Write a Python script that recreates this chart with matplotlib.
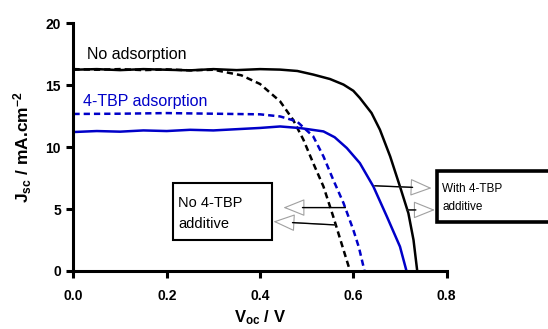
from matplotlib import pyplot as plt
from matplotlib.patches import Rectangle
import numpy as np

plt.rcParams['font.family'] = ['Liberation Sans', 'DejaVu Sans']
plt.rcParams['mathtext.fontset'] = 'custom'
plt.rcParams['mathtext.rm'] = 'Liberation Sans'
plt.rcParams['mathtext.bf'] = 'Liberation Sans:bold'
plt.rcParams['mathtext.it'] = 'Liberation Sans:italic'

# J-V curves
v_no_ads = [0, 0.05, 0.1, 0.15, 0.2, 0.25, 0.3, 0.35, 0.4, 0.443, 0.48, 0.514, 0.55,
            0.579, 0.6, 0.614, 0.639, 0.657, 0.679, 0.700, 0.718, 0.729, 0.737]
j_no_ads = [16.25, 16.3, 16.22, 16.3, 16.25, 16.2, 16.3, 16.22, 16.3, 16.26, 16.15, 15.86,
            15.5, 15.05, 14.55, 13.97, 12.76, 11.41, 9.25, 6.82, 4.67, 2.51, 0]

v_no_ads_d = [0, 0.05, 0.1, 0.15, 0.2, 0.25, 0.3, 0.32, 0.36, 0.40, 0.443, 0.471, 0.493,
              0.514, 0.536, 0.557, 0.579, 0.593]
j_no_ads_d = [16.3, 16.25, 16.3, 16.22, 16.28, 16.2, 16.25, 16.1, 15.8, 15.1, 13.7, 12.2,
              10.6, 8.71, 6.82, 4.39, 1.7, 0]

v_tbp_d = [0, 0.1, 0.2, 0.3, 0.4, 0.443, 0.479, 0.514, 0.536, 0.557, 0.579, 0.600,
           0.612, 0.624]
j_tbp_d = [12.68, 12.7, 12.75, 12.7, 12.65, 12.48, 12.08, 10.87, 9.25, 7.36, 5.48, 3.32,
           1.9, 0]

v_tbp = [0, 0.05, 0.1, 0.15, 0.2, 0.25, 0.3, 0.35, 0.4, 0.443, 0.486, 0.536, 0.56,
         0.586, 0.614, 0.643, 0.672, 0.700, 0.714]
j_tbp = [11.22, 11.3, 11.25, 11.35, 11.3, 11.4, 11.35, 11.45, 11.55, 11.67, 11.54, 11.27,
         10.8, 9.93, 8.71, 6.82, 4.39, 1.97, 0]

xticks = [0.0, 0.2, 0.4, 0.6, 0.8]
yticks = [0, 5, 10, 15, 20]
blue = '#0000C8'

fig = plt.figure(figsize=(5.48, 3.29), dpi=100)
ax = fig.add_axes([0.134, 0.1763, 0.681, 0.7529])

ax.plot(v_no_ads, j_no_ads, c='black', lw=1.8)
ax.plot(v_no_ads_d, j_no_ads_d, c='black', lw=1.8, dashes=(2.5, 1.6))
ax.plot(v_tbp_d, j_tbp_d, c=blue, lw=1.8, dashes=(2.5, 1.6))
ax.plot(v_tbp, j_tbp, c=blue, lw=1.8)

ax.set_xlim(0, 0.8)
ax.set_ylim(0, 20)
ax.set_xticks(xticks)
ax.set_xticklabels(['%.1f' % t for t in xticks])
ax.set_yticks(yticks)
for s in ['top', 'right']:
    ax.spines[s].set_visible(False)
for s in ['left', 'bottom']:
    ax.spines[s].set_linewidth(2.2)
ax.tick_params(direction='out', length=5, width=2.2, labelsize=10)
ax.tick_params(axis='x', pad=8)
ax.tick_params(axis='y', pad=4)
for lab in ax.get_xticklabels() + ax.get_yticklabels():
    lab.set_fontweight('bold')

ax.set_xlabel(r'$\mathbf{V_{oc}}$ / V', fontsize=12, fontweight='bold')
ax.xaxis.set_label_coords(0.5, -0.152)
ax.set_ylabel(r'$\mathbf{J_{sc}}$ / mA.cm$^{\mathbf{-2}}$', fontsize=12.5, fontweight='bold')
ax.yaxis.set_label_coords(-0.105, 0.5)

ax.text(0.029, 17.5, 'No adsorption', fontsize=11.5, color='black', va='center')
ax.text(0.021, 13.7, '4-TBP adsorption', fontsize=11.5, color=blue, va='center')

# text boxes
ax.add_patch(Rectangle((0.213, 2.51), 0.212, 4.59, fc='white', ec='black', lw=1.5,
                       clip_on=False, zorder=3))
ax.text(0.225, 4.66, 'No 4-TBP\nadditive', fontsize=10.5, va='center', ha='left',
        linespacing=1.6, zorder=4)
ax.add_patch(Rectangle((0.779, 3.94), 0.25, 4.15, fc='white', ec='black', lw=2.6,
                       clip_on=False, zorder=3))
ax.text(0.791, 5.88, 'With 4-TBP\nadditive', fontsize=8.5, va='center', ha='left',
        linespacing=1.7, zorder=4)

# arrows: (start on curve, tip)
arrows = [((0.583, 5.12), (0.450, 5.12)),
          ((0.561, 3.72), (0.4286, 3.99)),
          ((0.646, 6.88), (0.768, 6.69)),
          ((0.714, 4.93), (0.775, 4.93))]
for start, tip in arrows:
    ax.annotate('', xy=tip, xytext=start, annotation_clip=False, zorder=5,
                arrowprops=dict(arrowstyle='-|>,head_length=1.37,head_width=0.55',
                                fc='white', ec='#A0A0A0', lw=0.8, shrinkA=0, shrinkB=0))
    d = np.array(tip) - np.array(start)
    frac = 1 - 0.041 / abs(d[0])
    base = (start[0] + d[0] * frac, start[1] + d[1] * frac)
    ax.annotate('', xy=base, xytext=start, annotation_clip=False, zorder=6,
                arrowprops=dict(arrowstyle='-', color='black', lw=1.0, shrinkA=0, shrinkB=0))

plt.savefig('out.png', dpi=100)
